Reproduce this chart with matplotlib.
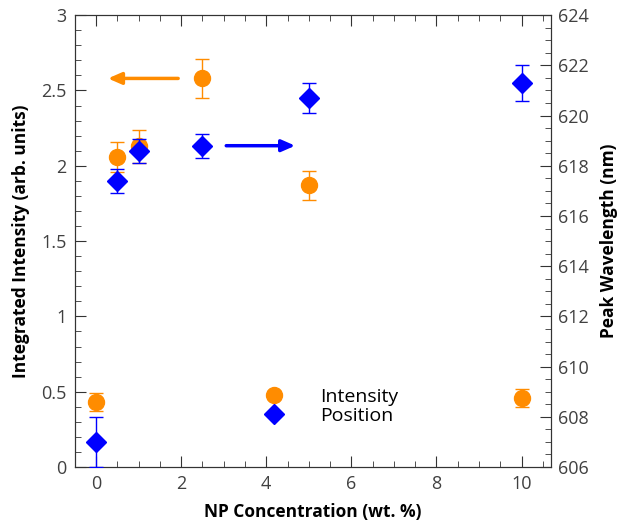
import matplotlib
matplotlib.use("Agg")
import matplotlib.pyplot as plt
from matplotlib.ticker import MultipleLocator, FormatStrFormatter

# NP concentration (wt. %)
conc = [0, 0.5, 1, 2.5, 5, 10]

# integrated intensity (arb. units) and its error
intensity = [0.43, 2.06, 2.13, 2.58, 1.87, 0.46]
intensity_err = [0.06, 0.10, 0.11, 0.13, 0.095, 0.06]

# peak wavelength (nm) and its error
position = [607.0, 617.4, 618.6, 618.8, 620.7, 621.3]
position_err = [1.0, 0.47, 0.48, 0.48, 0.6, 0.7]

ORANGE = "#ff8c00"
BLUE = "#0000ff"
TICK_GRAY = "#404040"

plt.rcParams["font.family"] = ["Open Sans", "DejaVu Sans"]

fig, ax = plt.subplots(figsize=(6.23, 5.23), dpi=100)
fig.subplots_adjust(left=0.12, right=0.885, top=0.971, bottom=0.107)
ax2 = ax.twinx()

ax.errorbar(conc, intensity, yerr=intensity_err, fmt="o", color=ORANGE,
            markersize=11.5, capsize=5, elinewidth=1, capthick=1, zorder=3)
ax2.errorbar(conc, position, yerr=position_err, fmt="D", color=BLUE,
             markersize=10, capsize=5, elinewidth=1, capthick=1, zorder=3)

# arrows pointing to each axis
ax.annotate("", xy=(0.28, 2.58), xytext=(1.93, 2.58),
            arrowprops=dict(arrowstyle="-|>,head_length=0.8,head_width=0.35",
                            color=ORANGE, lw=2.5, shrinkA=0, shrinkB=0))
ax2.annotate("", xy=(4.68, 618.8), xytext=(3.06, 618.8),
             arrowprops=dict(arrowstyle="-|>,head_length=0.8,head_width=0.35",
                             color=BLUE, lw=2.5, shrinkA=0, shrinkB=0))

ax.set_xlim(-0.5, 10.7)
ax.set_ylim(0, 3)
ax2.set_ylim(606, 624)

ax.xaxis.set_major_locator(MultipleLocator(2))
ax.xaxis.set_minor_locator(MultipleLocator(0.5))
ax.yaxis.set_major_locator(MultipleLocator(0.5))
ax.yaxis.set_minor_locator(MultipleLocator(0.1))
ax.yaxis.set_major_formatter(FormatStrFormatter("%g"))
ax2.yaxis.set_major_locator(MultipleLocator(2))
ax2.yaxis.set_minor_locator(MultipleLocator(0.5))

ax.tick_params(which="both", direction="in", top=True, labelsize=13,
               labelcolor=TICK_GRAY, color="#333333")
ax.tick_params(which="major", length=8, pad=6)
ax.tick_params(which="minor", length=4)
ax.tick_params(axis="y", right=False)
ax2.tick_params(which="both", direction="in", labelsize=13,
                labelcolor=TICK_GRAY, color="#333333")
ax2.tick_params(which="major", length=8, pad=5)
ax2.tick_params(which="minor", length=4)

for a in (ax, ax2):
    for s in a.spines.values():
        s.set_color("#333333")

ax.set_xlabel("NP Concentration (wt. %)", fontsize=12.5, fontweight="bold",
              labelpad=7)
ax.set_ylabel("Integrated Intensity (arb. units)", fontsize=12.5,
              fontweight="bold", labelpad=8)
ax2.set_ylabel("Peak Wavelength (nm)", fontsize=12.5, fontweight="bold",
               labelpad=8)

# legend drawn with proxy markers
h1 = plt.Line2D([], [], ls="none", marker="o", color=ORANGE, markersize=11.5)
h2 = plt.Line2D([], [], ls="none", marker="D", color=BLUE, markersize=10)
ax.legend([h1, h2], ["Intensity", "Position"], frameon=False, fontsize=14,
          loc="center", bbox_to_anchor=(0.528, 0.135), handletextpad=1.4,
          labelspacing=0.05)

plt.savefig("out.png", dpi=100)
